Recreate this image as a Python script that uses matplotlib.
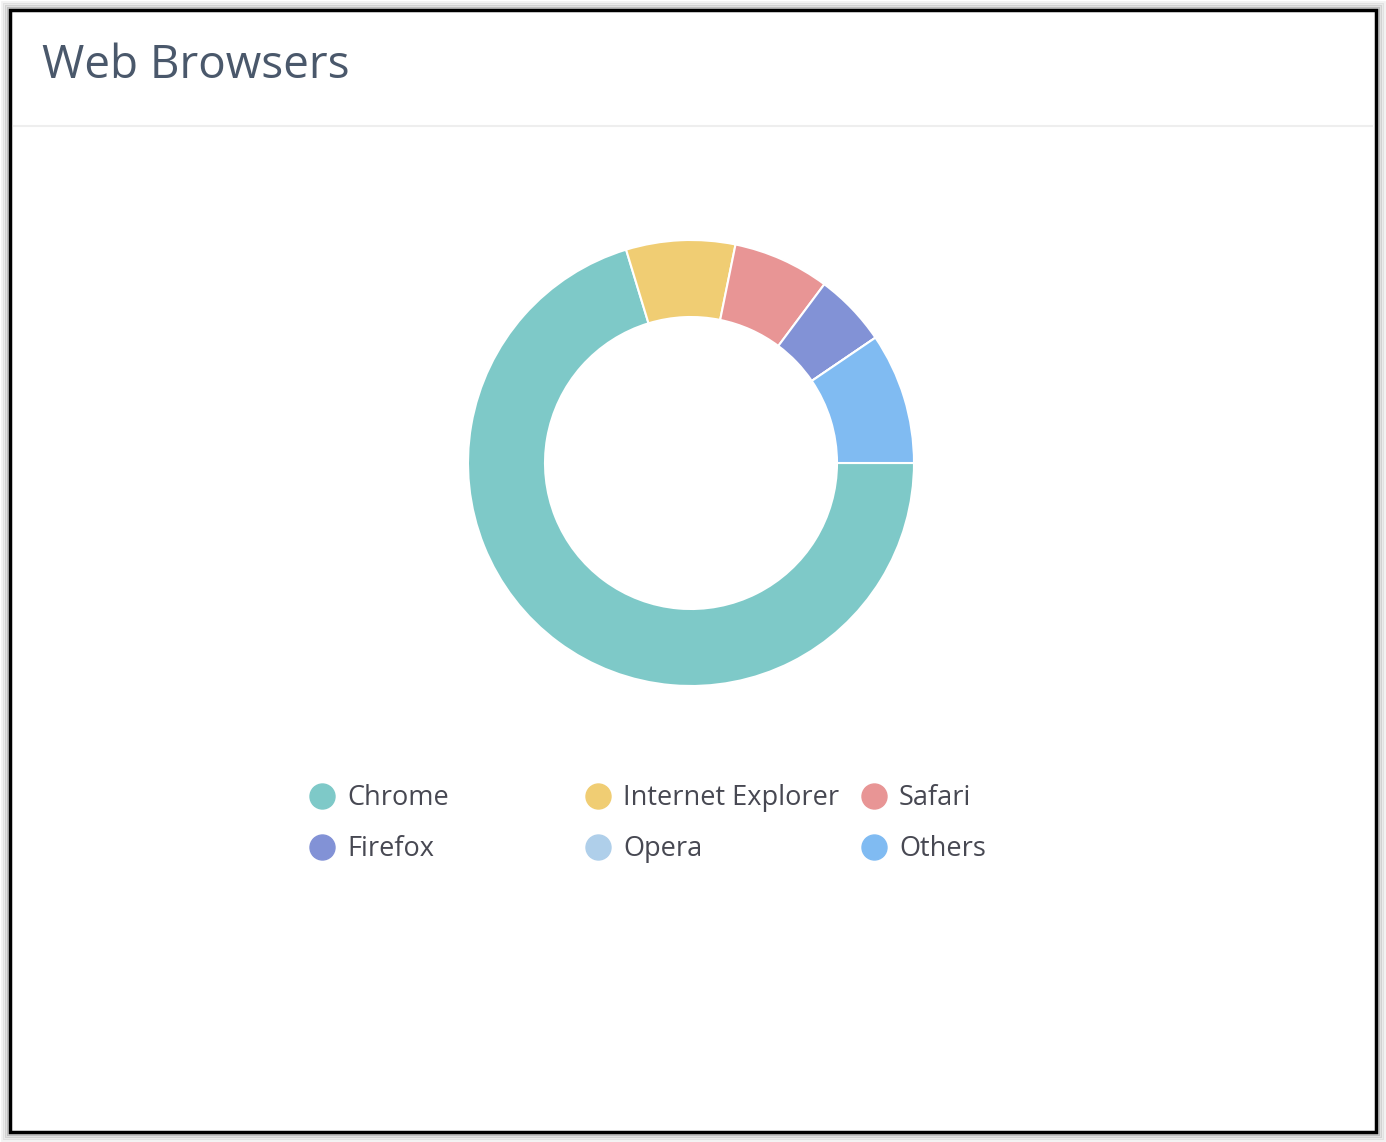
import numpy as np
import matplotlib.pyplot as plt
from matplotlib.lines import Line2D
from matplotlib.patches import Rectangle

# --------------------------------
# data
# --------------------------------
browsers = ["Chrome", "Internet Explorer", "Safari", "Firefox", "Opera", "Others"]
shares = [70.3, 7.9, 7.0, 5.3, 0.0, 9.5]
colors = ["#7ec9c8", "#f0cd73", "#e89595", "#8292d6", "#afcfea", "#80bbf2"]

W, H = 1386, 1142
fx = lambda px: px / W
fy = lambda py: 1 - py / H

fig = plt.figure(figsize=(W / 100, H / 100), dpi=100)
fig.patch.set_facecolor("white")

# frame + soft shadow
for k, a in enumerate([0.05, 0.08, 0.12, 0.18]):
    off = 8 - 2 * k
    fig.add_artist(Rectangle((fx(10 - off), fy(1132 + off)), fx(1366 + 2 * off), (1122 + 2 * off) / H,
                             transform=fig.transFigure, facecolor="none",
                             edgecolor="black", alpha=a, lw=2))
fig.add_artist(Rectangle((fx(10), fy(1132)), fx(1366), 1122 / H, transform=fig.transFigure,
                         facecolor="white", edgecolor="black", lw=2.5, zorder=0))

# header
fig.text(fx(42), fy(66), "Web Browsers", fontsize=33, family="Open Sans",
         color="#4a586b", va="center", ha="left")
fig.add_artist(Line2D([fx(14), fx(1372)], [fy(126), fy(126)], transform=fig.transFigure,
                      color="#eeeeee", lw=1.5))

# --------------------------------
# donut
# --------------------------------
R = 223
size = 2.2 * R
ax = fig.add_axes([fx(691 - size / 2), fy(463 + size / 2), size / W, size / H])
ax.pie(shares, colors=colors, startangle=0, counterclock=False,
       wedgeprops=dict(width=1 - 146 / 223, edgecolor="white", linewidth=1.5))
ax.set_xlim(-1.1, 1.1)
ax.set_ylim(-1.1, 1.1)
ax.set_aspect("equal")
ax.axis("off")

# --------------------------------
# legend
# --------------------------------
for i, (name, c) in enumerate(zip(browsers, colors)):
    col, row = i % 3, i // 3
    x0 = 322 + 276 * col
    y0 = 796 + 51 * row
    fig.add_artist(Line2D([fx(x0)], [fy(y0)], transform=fig.transFigure, marker="o",
                          markersize=18, markerfacecolor=c, markeredgecolor=c))
    fig.text(fx(x0 + 25), fy(y0 + 2), name, fontsize=19.5, family="Open Sans",
             color="#474852", va="center", ha="left")

plt.savefig("out.png", dpi=100)
